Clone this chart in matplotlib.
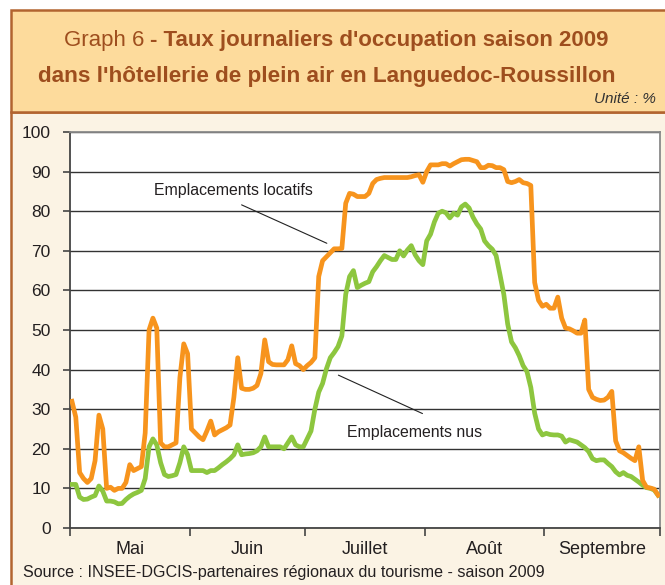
import numpy as np
import matplotlib
matplotlib.use('Agg')
import matplotlib.pyplot as plt
from matplotlib.patches import Rectangle

plt.rcParams['font.family'] = ['Liberation Sans', 'DejaVu Sans']

MOIS = ['Mai', 'Juin', 'Juillet', 'Août', 'Septembre']
JOURS_PAR_MOIS = [31, 30, 31, 31, 30]

# taux journalier d'occupation (%) du 1er mai au 30 septembre 2009
locatifs = [
    # mai
    32, 28, 14, 12.5, 11.5, 12.5, 17, 28.5, 25, 10, 10.3, 9.5, 10, 10, 11.5, 16,
    14.5, 15, 15.5, 24, 50, 53, 50.5, 21.5, 20.5, 20.5, 21, 21.5, 38, 46.5, 44,
    # juin
    25, 24, 23, 22.3, 24.5, 27, 23.5, 24.3, 24.8, 25.3, 26, 33, 43, 35.3, 35,
    35, 35.3, 36, 39, 47.5, 42, 41.3, 41.2, 41.2, 41.2, 42.5, 46, 41.5, 41, 40,
    # juillet
    41, 41.8, 43, 63.5, 67.5, 68.5, 69.5, 70.5, 70.5, 70.6, 82, 84.5, 84.3, 83.7,
    83.7, 83.7, 84.5, 87, 88, 88.3, 88.5, 88.5, 88.5, 88.5, 88.5, 88.5, 88.5,
    88.7, 89, 89.2, 87.3,
    # aout
    90, 91.7, 91.7, 91.7, 92, 92, 91.4, 92, 92.5, 93, 93.1, 93.1, 92.8, 92.5, 91,
    91, 91.6, 91.5, 91, 91, 90.5, 87.5, 87.2, 87.5, 88, 87.2, 87, 86.5, 62, 57.5, 56,
    # septembre
    56.5, 55.5, 55.5, 58.3, 53, 50.5, 50.3, 49.8, 49.2, 49.2, 52.5, 35, 33, 32.5,
    32.2, 32.3, 33, 34.5, 22, 19.5, 19, 18.3, 17.6, 17, 20.5, 12, 10.3, 10.1, 9.8, 8.3,
]

nus = [
    # mai
    11, 11, 7.8, 7.2, 7.3, 7.8, 8.2, 10.6, 9.3, 6.8, 6.8, 6.6, 6.1, 6.2, 7.2, 8.0,
    8.6, 9.0, 9.5, 12.5, 20.5, 22.5, 21, 16.5, 13.5, 13, 13.2, 13.5, 16.5, 20.5, 18.5,
    # juin
    14.5, 14.5, 14.5, 14.5, 14, 14.5, 14.5, 15.2, 16, 16.7, 17.5, 18.5, 21, 18.5,
    18.7, 18.8, 19, 19.5, 20.5, 23, 20.5, 20.5, 20.5, 20.5, 20, 21.5, 23, 21, 20.5, 20.5,
    # juillet
    22.5, 24.5, 30, 34.3, 36.5, 40.2, 43, 44.3, 45.8, 48.5, 59, 63.5, 65, 60.7,
    61.3, 61.8, 62.2, 64.7, 66, 67.5, 68.8, 68.3, 67.8, 67.8, 70, 68.7, 70.2,
    71.3, 69, 67.5, 66.5,
    # aout
    72.5, 74.2, 77.3, 79.5, 80, 79.6, 78.3, 79.5, 79, 81.1, 81.8, 80.8, 78.5, 76.8,
    75.5, 72.5, 71.3, 70.4, 68.8, 64, 59, 51.5, 47, 45.5, 43.5, 41, 39.5, 35.5, 29,
    25, 23.5,
    # septembre
    23.9, 23.6, 23.5, 23.5, 23.2, 21.7, 22.3, 22, 21.7, 21, 20.3, 19.3, 17.5, 17,
    17.2, 17.2, 16.3, 15.5, 14.2, 13.4, 14, 13.3, 13, 12.3, 11.6, 10.8, 10.2, 10,
    9.6, 8.3,
]

ORANGE = '#F7941D'
VERT = '#8DC63F'
BRUN = '#B2642F'
TITRE = '#9E4E1E'
TEXTE = '#231F20'

W, H = 665, 585


def fx(px):
    return px / W


def fy(py):
    return 1 - py / H


fig = plt.figure(figsize=(W / 100, H / 100), dpi=100)
fig.patch.set_facecolor('white')

# cadre : fond crème + bandeau du titre
fig.add_artist(Rectangle((fx(11), fy(600)), fx(680) - fx(11), fy(112) - fy(600),
                         transform=fig.transFigure, facecolor='#FBF3E4',
                         edgecolor=BRUN, lw=1.8, zorder=-2))
fig.add_artist(Rectangle((fx(11), fy(112)), fx(680) - fx(11), fy(10) - fy(112),
                         transform=fig.transFigure, facecolor='#FDDB9C',
                         edgecolor=BRUN, lw=1.8, zorder=-1))

ax = fig.add_axes([fx(70), fy(528), fx(660) - fx(70), fy(132) - fy(528)])
ax.set_facecolor('white')

jours = np.arange(len(locatifs))
ax.plot(jours, nus, color=VERT, lw=3.4, zorder=3)
ax.plot(jours, locatifs, color=ORANGE, lw=3.4, zorder=4)

ax.set_xlim(-0.5, len(locatifs) - 0.5)
ax.set_ylim(0, 100)
ax.set_yticks(range(0, 101, 10))
ax.yaxis.grid(True, color='#333333', lw=1.0)
ax.set_axisbelow(True)

bornes = np.cumsum([0] + JOURS_PAR_MOIS) - 0.5
centres = (bornes[:-1] + bornes[1:]) / 2
ax.set_xticks(bornes)
ax.set_xticklabels([])
ax.set_xticks(centres, minor=True)
ax.set_xticklabels(MOIS, minor=True)
ax.tick_params(axis='x', which='major', length=6, width=1.2, color='#444444')
ax.tick_params(axis='x', which='minor', length=0, pad=9, labelsize=13, labelcolor=TEXTE)
ax.tick_params(axis='y', length=5, width=1.2, pad=9, labelsize=12.5,
               color='#444444', labelcolor=TEXTE)

for cote in ['left', 'bottom']:
    ax.spines[cote].set_color('#444444')
    ax.spines[cote].set_linewidth(1.3)
for cote in ['top', 'right']:
    ax.spines[cote].set_color('#8A8A8A')
    ax.spines[cote].set_linewidth(1.3)

# légendes sur le graphique
ax.text(42.0, 85.2, 'Emplacements locatifs', ha='center', va='center',
        fontsize=11.4, color=TEXTE)
ax.annotate('', xy=(66.1, 71.9), xytext=(44.0, 81.6),
            arrowprops=dict(arrowstyle='-', color='#222222', lw=0.8,
                            shrinkA=0, shrinkB=0))
ax.text(88.9, 24.1, 'Emplacements nus', ha='center', va='center',
        fontsize=11.4, color=TEXTE)
ax.annotate('', xy=(90.9, 28.9), xytext=(69.1, 38.6),
            arrowprops=dict(arrowstyle='-', color='#222222', lw=0.8,
                            shrinkA=0, shrinkB=0))

# titre (partie normale + partie grasse)
r = fig.canvas.get_renderer()
t1 = fig.text(0, fy(45.7), 'Graph 6 ', fontsize=16, color=TITRE, va='baseline')
t2 = fig.text(0, fy(45.7), "- Taux journaliers d'occupation saison 2009",
              fontsize=16, color=TITRE, weight='bold', va='baseline')
w1 = t1.get_window_extent(r).width
w2 = t2.get_window_extent(r).width
x0 = 336 - (w1 + w2) / 2
t1.set_x(fx(x0))
t2.set_x(fx(x0 + w1))
fig.text(fx(326.5), fy(82.3), "dans l'hôtellerie de plein air en Languedoc-Roussillon",
         fontsize=16.2, color=TITRE, weight='bold', ha='center', va='baseline')
fig.text(fx(655.5), fy(103), 'Unité : %', fontsize=11, style='italic',
         color='#333333', ha='right', va='baseline')

fig.text(fx(22.7), fy(576.5),
         'Source : INSEE-DGCIS-partenaires régionaux du tourisme - saison 2009',
         fontsize=11.6, color=TEXTE, ha='left', va='baseline')

fig.savefig('out.png', dpi=100)
